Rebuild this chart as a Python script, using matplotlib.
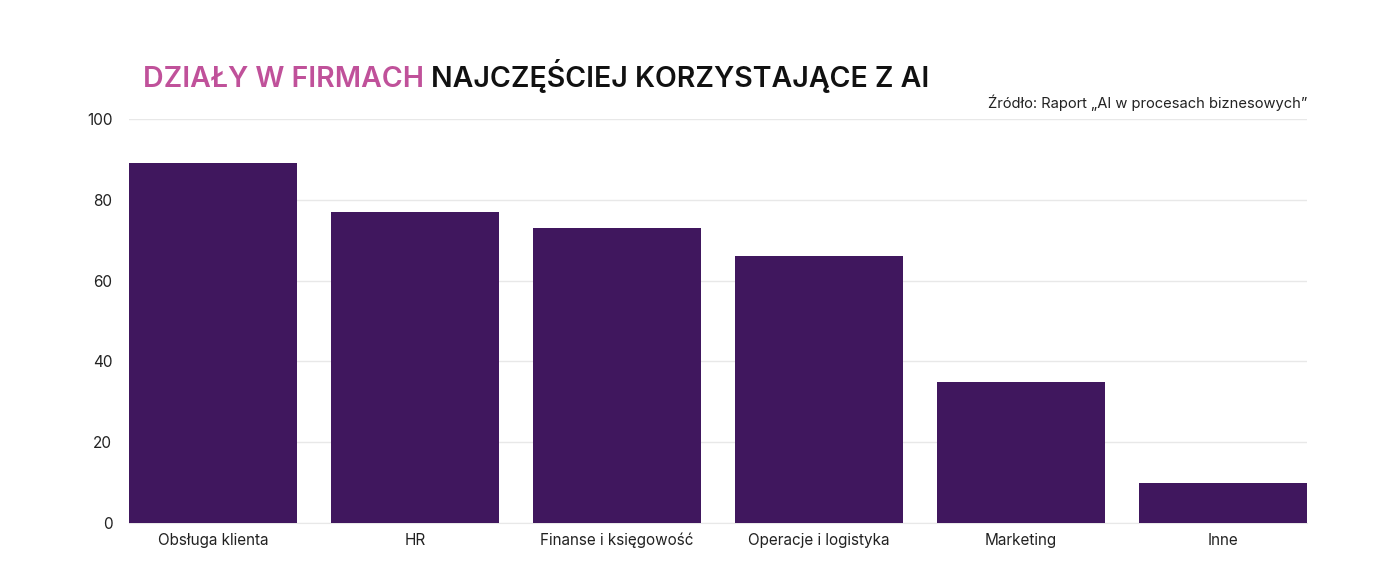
import matplotlib
matplotlib.use("Agg")
import matplotlib.pyplot as plt

categories = ['Obsługa klienta', 'HR', 'Finanse i księgowość', 'Operacje i logistyka', 'Marketing', 'Inne']
values = [89, 77, 73, 66, 35, 10]
yticks = [0, 20, 40, 60, 80, 100]

plt.rcParams['font.family'] = ['Inter', 'DejaVu Sans']

fig = plt.figure(figsize=(13.86, 5.85), dpi=100)
ax = fig.add_axes([0.0931, 0.106, 0.8499, 0.6906])

x = range(len(categories))
ax.bar(x, values, width=0.83, color='#40175e', zorder=3)
ax.set_xlim(-0.415, len(categories) - 0.585)
ax.set_ylim(0, 100)
ax.set_yticks(yticks)
ax.set_xticks(list(x))
ax.set_xticklabels(categories)
ax.grid(axis='y', color='#e8e8e8', linewidth=1, zorder=0)
for s in ['top', 'right', 'left']:
    ax.spines[s].set_visible(False)
ax.spines['bottom'].set_color('#e8e8e8')
ax.tick_params(axis='both', length=0, labelsize=11, colors='#222222')
ax.tick_params(axis='y', pad=12)
ax.tick_params(axis='x', pad=7)

t1 = fig.text(143 / 1386, 1 - 87 / 585, 'DZIAŁY W FIRMACH', color='#c0519a',
              fontsize=20.5, fontweight='semibold', va='baseline', ha='left')
fig.canvas.draw()
bb = t1.get_window_extent()
fig.text(bb.x1 / fig.bbox.width + 0.005, 1 - 87 / 585, 'NAJCZĘŚCIEJ KORZYSTAJĄCE Z AI',
         color='#111111', fontsize=20.5, fontweight='semibold', va='baseline', ha='left')
fig.text(1307 / 1386, 1 - 103 / 585, 'Źródło: Raport „AI w procesach biznesowych”',
         color='#222222', fontsize=10.6, ha='right', va='center')

fig.savefig('out.png', dpi=100)
